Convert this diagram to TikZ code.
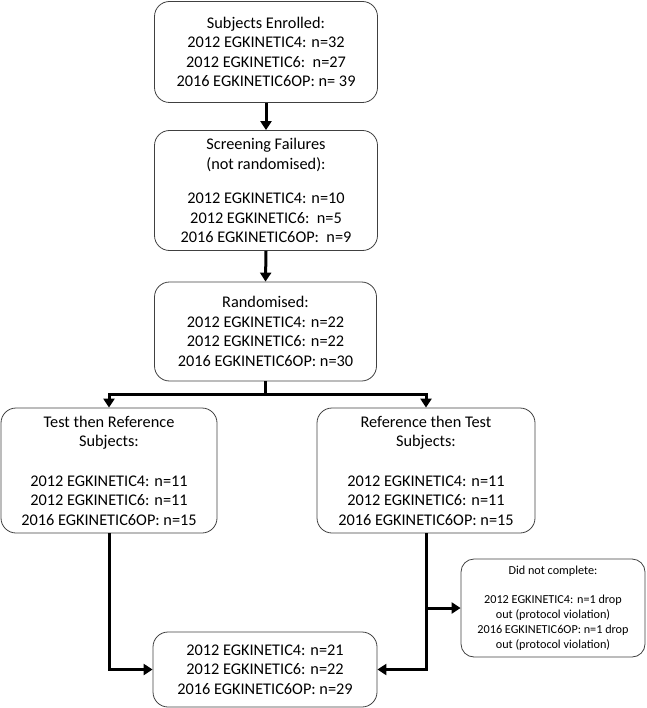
\documentclass[tikz,border=0pt]{standalone}
\usepackage{fontspec}
\setmainfont{Carlito}
\usetikzlibrary{arrows.meta}
\begin{document}
\begin{tikzpicture}[x=1pt,y=-1pt,
  box/.style={draw=black!75, line width=0.8pt, rounded corners=15pt, align=center, inner sep=0pt, font=\fontsize{16.3}{19.5}\selectfont},
  smallbox/.style={draw=black!75, line width=0.8pt, rounded corners=13pt, align=center, inner sep=0pt, font=\fontsize{12.2}{14.7}\selectfont},
  arr/.style={line width=3pt, -{Triangle[length=9pt,width=11pt]}},
  conn/.style={line width=3pt}]
\useasboundingbox (0,0) rectangle (646,708);
\node[box, minimum width=223pt, minimum height=101pt] (b1) at (266,52) {Subjects Enrolled:\\2012 EGKINETIC4: n=32\\2012 EGKINETIC6:\ \ n=27\\2016 EGKINETIC6OP: n= 39};
\node[box, minimum width=223pt, minimum height=120pt] (b2) at (266,190.5) {Screening Failures\\(not randomised):\\[15pt]2012 EGKINETIC4: n=10\\2012 EGKINETIC6:\ \ n=5\\2016 EGKINETIC6OP:\ \ n=9};
\node[box, minimum width=222pt, minimum height=99pt] (b3) at (265.5,331.5) {Randomised:\\2012 EGKINETIC4: n=22\\2012 EGKINETIC6: n=22\\2016 EGKINETIC6OP: n=30};
\node[box, minimum width=216pt, minimum height=125pt] (b4) at (109,470.5) {Test then Reference\\Subjects:\\[20pt]2012 EGKINETIC4: n=11\\2012 EGKINETIC6: n=11\\2016 EGKINETIC6OP: n=15};
\node[box, minimum width=218pt, minimum height=125pt] (b5) at (426,470.5) {Reference then Test\\Subjects:\\[20pt]2012 EGKINETIC4: n=11\\2012 EGKINETIC6: n=11\\2016 EGKINETIC6OP: n=15};
\node[box, minimum width=224pt, minimum height=75pt] (b6) at (265,669.5) {2012 EGKINETIC4: n=21\\2012 EGKINETIC6: n=22\\2016 EGKINETIC6OP: n=29};
\node[smallbox, minimum width=184pt, minimum height=98pt] (b7) at (553,608) {Did not complete:\\[14.7pt]2012 EGKINETIC4: n=1 drop\\out (protocol violation)\\2016 EGKINETIC6OP: n=1 drop\\out (protocol violation)};
\coordinate (j1) at (b3.south |- 0,394);
\draw[arr] (b1.south) -- (b2.north);
\draw[arr] (b2.south) -- (b3.north);
\draw[conn] (b3.south) -- (j1);
\draw[arr] ([xshift=1.5pt]j1) -| (b4.north);
\draw[arr] ([xshift=-1.5pt]j1) -| (b5.north);
\draw[arr] (b4.south) |- (b6.west);
\draw[arr] (b5.south) |- (b6.east);
\draw[arr] (b5.south |- b7.west) -- (b7.west);
\end{tikzpicture}
\end{document}
